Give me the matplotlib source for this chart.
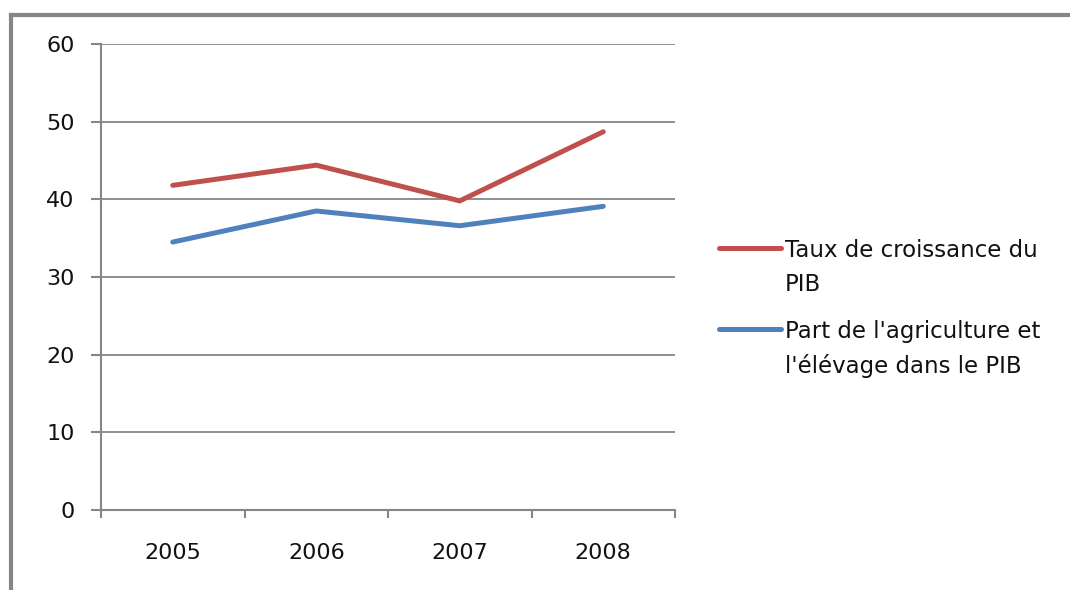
import matplotlib
matplotlib.use("Agg")
import matplotlib.pyplot as plt
from matplotlib.lines import Line2D

plt.rcParams['font.family'] = ['DejaVu Sans']

years = ["2005", "2006", "2007", "2008"]
taux_croissance = [41.8, 44.4, 39.8, 48.7]
part_agriculture = [34.5, 38.5, 36.6, 39.1]
labels = ["Taux de croissance du\nPIB", "Part de l'agriculture et\nl'élévage dans le PIB"]
colors = ["#C0504D", "#4F81BD"]

W, H = 1070, 590
fig = plt.figure(figsize=(W / 100, H / 100), dpi=100)

# plot area in pixel terms
x0, x1, y0, y1 = 101, 675, 44, 510
ax = fig.add_axes([x0 / W, 1 - y1 / H, (x1 - x0) / W, (y1 - y0) / H])

grid_c = "#868686"
xs = list(range(len(years)))
for vals, c in zip([taux_croissance, part_agriculture], colors):
    ax.plot(xs, vals, color=c, lw=3.6, solid_capstyle="round", solid_joinstyle="miter", zorder=3)

ax.set_xlim(-0.5, len(years) - 0.5)
ax.set_ylim(0, 60)
ax.set_yticks(range(0, 61, 10))
ax.yaxis.grid(True, color=grid_c, lw=1.3)
ax.set_axisbelow(True)
for s in ["top", "right"]:
    ax.spines[s].set_visible(False)
for s in ["left", "bottom"]:
    ax.spines[s].set_color(grid_c)
    ax.spines[s].set_linewidth(1.5)

ax.set_xticks([i - 0.5 for i in range(len(years) + 1)], minor=False)
ax.set_xticklabels([])
ax.set_xticks(xs, minor=True)
ax.set_xticklabels(years, minor=True)
ax.tick_params(axis="x", which="major", length=6, width=1.5, color=grid_c, direction="out")
ax.tick_params(axis="x", which="minor", length=0, pad=24, labelsize=16, labelcolor="#111111")
ax.tick_params(axis="y", length=7, width=1.5, color=grid_c, direction="out", labelsize=16,
               pad=12, labelcolor="#111111")

# legend drawn to the right of the plot area, handle aligned with the first text line
entries = [(labels[0], colors[0], 248), (labels[1], colors[1], 329)]
for text, c, yp in entries:
    fig.add_artist(Line2D([719 / W, 781 / W], [1 - yp / H, 1 - yp / H],
                          color=c, lw=3.6, solid_capstyle="round"))
    for k, line in enumerate(text.split("\n")):
        fig.text(785 / W, 1 - (yp + 34 * k) / H, line, fontsize=16.5, va="center_baseline",
                 ha="left", color="#111111")

# outer frame: only top and left edges visible
fig.add_artist(Line2D([11 / W, 1], [1 - 15 / H, 1 - 15 / H], color="#868686", lw=3))
fig.add_artist(Line2D([11 / W, 11 / W], [0, 1 - 15 / H], color="#868686", lw=3))

fig.savefig("out.png", dpi=100)
